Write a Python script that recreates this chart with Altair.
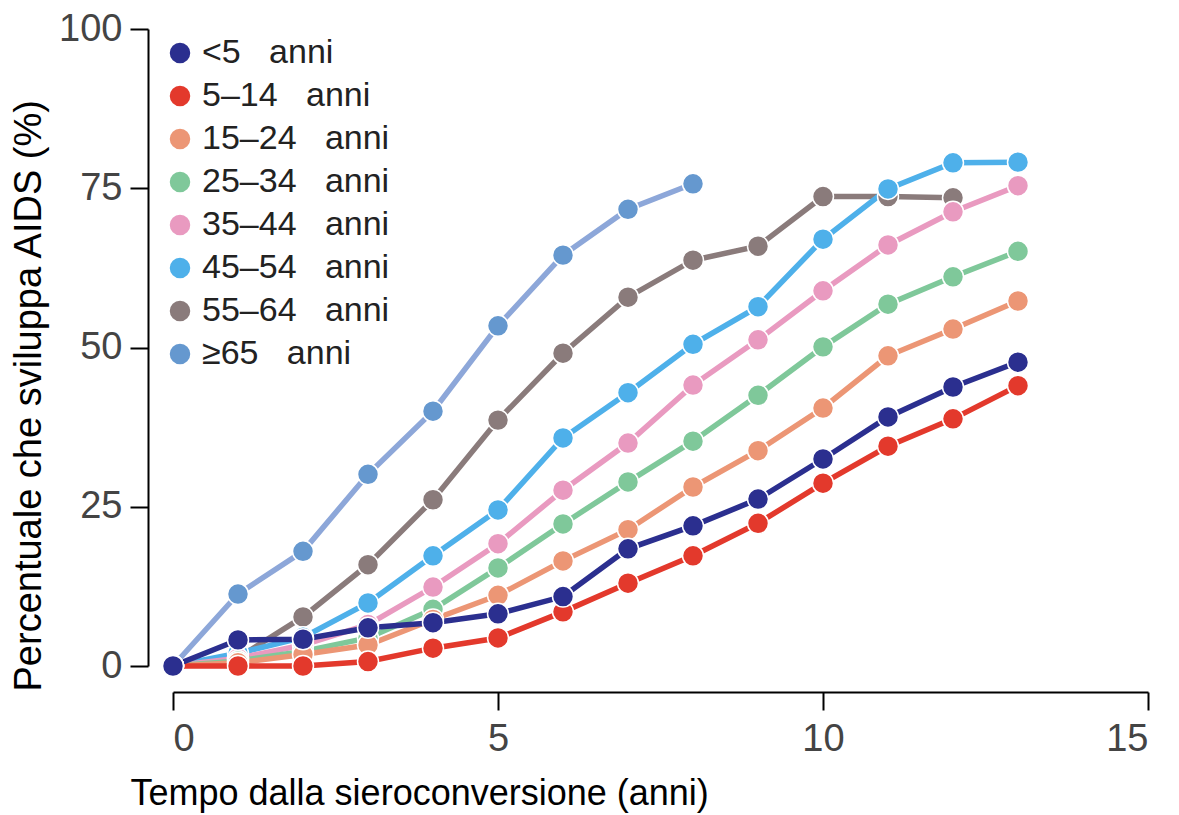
import altair as alt
import pandas as pd

years = list(range(14))
groups = ["<5", "5–14", "15–24", "25–34", "35–44", "45–54", "55–64", "≥65"]
point_colors = ["#2B2F8F", "#E3392C", "#EC9675", "#7FC89A", "#E99AC0", "#4EB0EA", "#8A7B7B", "#6598CF"]
line_colors = ["#2B2F8F", "#E3392C", "#EC9675", "#7FC89A", "#E99AC0", "#4EB0EA", "#8A7B7B", "#8DA7D9"]

v_lt5 = [0, 4.1, 4.2, 6.0, 6.8, 8.2, 10.9, 18.4, 22.0, 26.2, 32.5, 39.1, 43.8, 47.7]
v_5_14 = [0, 0, 0, 0.7, 2.8, 4.4, 8.5, 13.0, 17.3, 22.4, 28.7, 34.5, 38.8, 44.0]
v_15_24 = [0, 0.5, 1.8, 3.3, 7.3, 11.1, 16.5, 21.4, 28.1, 33.8, 40.5, 48.7, 52.9, 57.3]
v_25_34 = [0, 0.8, 2.3, 4.4, 8.9, 15.4, 22.3, 28.9, 35.3, 42.5, 50.1, 56.8, 61.1, 65.1]
v_35_44 = [0, 1.2, 3.3, 6.5, 12.4, 19.2, 27.6, 35.0, 44.1, 51.2, 58.9, 66.1, 71.3, 75.4]
v_45_54 = [0, 2.0, 4.5, 9.9, 17.3, 24.5, 35.8, 42.9, 50.5, 56.4, 67.0, 74.9, 79.0, 79.1]
v_55_64 = [0, 1.3, 7.7, 15.9, 26.1, 38.6, 49.1, 57.9, 63.7, 65.9, 73.7, 73.7, 73.5]
v_ge65 = [0, 11.3, 18.0, 30.1, 40.0, 53.4, 64.5, 71.7, 75.7]

series = {
    "<5": v_lt5, "5–14": v_5_14, "15–24": v_15_24, "25–34": v_25_34,
    "35–44": v_35_44, "45–54": v_45_54, "55–64": v_55_64, "≥65": v_ge65,
}

# draw order: last group drawn on top
draw_order = ["≥65", "55–64", "45–54", "35–44", "25–34", "15–24", "5–14", "<5"]
rows = []
for g in draw_order:
    for yr, v in zip(years, series[g]):
        rows.append({"anni": yr, "pct": v, "gruppo": g})
df = pd.DataFrame(rows)

FONT = "Liberation Sans"

x = alt.X("anni:Q", scale=alt.Scale(domain=[0, 15], nice=False),
          axis=alt.Axis(values=[0, 5, 10, 15], title="Tempo dalla sieroconversione (anni)",
                        offset=26, tickSize=18, labelPadding=10, titlePadding=18,
                        titleAnchor="start", titleAlign="left", titleX=-43))
y = alt.Y("pct:Q", scale=alt.Scale(domain=[0, 100], nice=False),
          axis=alt.Axis(values=[0, 25, 50, 75, 100], title="Percentuale che sviluppa AIDS (%)",
                        offset=25, tickSize=18, labelPadding=8, titlePadding=10,
                        titleFontSize=38, titleAnchor="start", titleAlign="left", titleY=662))

lines = alt.Chart(df).mark_line(strokeWidth=5.5).encode(
    x=x, y=y,
    color=alt.Color("gruppo:N", scale=alt.Scale(domain=groups, range=line_colors), legend=None),
    detail="gruppo:N",
)

points = alt.Chart(df).mark_point(filled=True, size=440, opacity=1, stroke="white", strokeWidth=1.5).encode(
    x=x, y=y,
    color=alt.Color("gruppo:N", scale=alt.Scale(domain=groups, range=point_colors),
                    legend=alt.Legend(title=None, orient="none", legendX=-10, legendY=7,
                                      symbolType="circle", symbolSize=420, symbolStrokeWidth=0,
                                      labelFontSize=34, labelFont=FONT, labelColor="#222",
                                      labelLimit=400, rowPadding=9, labelOffset=5, padding=0,
                                      labelExpr="datum.label + '\u00a0\u00a0\u00a0anni'")),
)

chart = alt.layer(lines, points).resolve_scale(color="independent").properties(
    width=975, height=637,
    padding={"left": 2, "top": 2, "right": 5, "bottom": 5},
).configure_view(stroke=None).configure_axis(
    grid=False, domainColor="#000", domainWidth=2, tickColor="#000", tickWidth=2,
    labelFont=FONT, labelFontSize=38, labelColor="#444",
    titleFont=FONT, titleFontSize=36, titleColor="#000", titleFontWeight="normal",
)

chart.save("out.html", embed_options={"renderer": "svg", "actions": False})
